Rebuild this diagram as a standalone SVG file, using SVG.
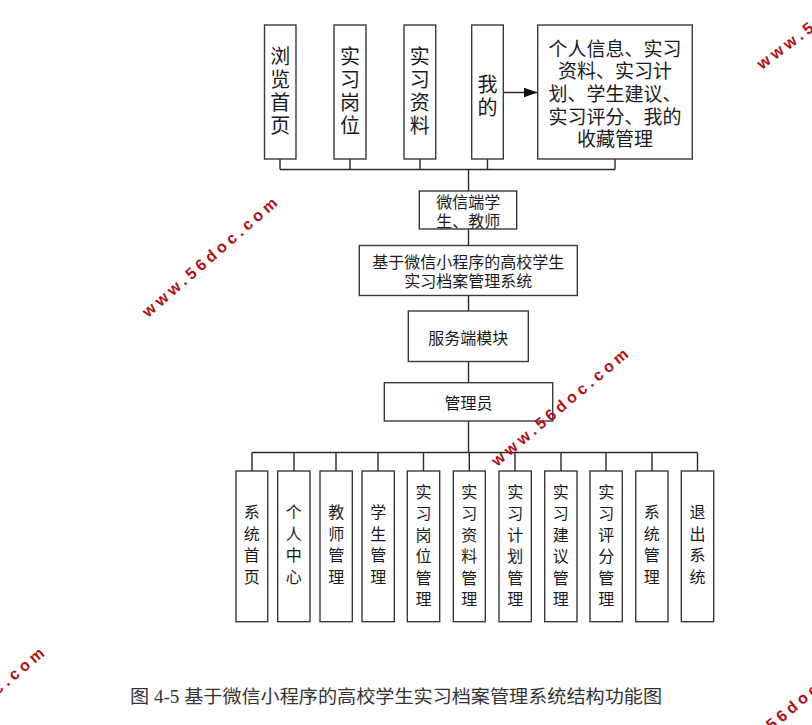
<svg xmlns="http://www.w3.org/2000/svg" width="812" height="725" viewBox="0 0 812 725">
<defs>
<style>
.box{fill:#fff;stroke:#3a3a3a;stroke-width:1.4}
.t{font-family:"Noto Sans CJK SC","Noto Sans",sans-serif;fill:#1a1a1a;text-anchor:middle;dominant-baseline:central}
.v{font-family:"Noto Sans CJK SC","Noto Sans",sans-serif;fill:#1a1a1a;text-anchor:middle;writing-mode:vertical-rl;text-orientation:upright}
.v20{font-size:20px;letter-spacing:2.8px}
.v16{font-size:16px;letter-spacing:5.5px}
.t19{font-size:19px}
.t16{font-size:16px}
.ln{fill:none;stroke:#2a2a2a;stroke-width:1.4}
.wm{font-family:"Liberation Sans",Arial,sans-serif;font-weight:bold;font-size:16px;letter-spacing:4px;fill:#b01010}
.cap{font-family:"Liberation Serif","Noto Sans CJK SC",serif;font-size:18px;fill:#333}
</style>
<marker id="arr" markerWidth="14" markerHeight="10" refX="14" refY="5" orient="auto" markerUnits="userSpaceOnUse">
<path d="M0,0 L14,5 L0,10 Z" fill="#111"/>
</marker>
</defs>
<rect width="812" height="725" fill="#fff"/>

<g id="connectors">
<path class="ln" d="M280,159 V169.5 M350,159 V169.5 M420,159 V169.5 M487.5,159 V169.5 M615,159 V169.5 M280,169.5 H615"/>
<path class="ln" d="M468.5,169.5 V191"/>
<path class="ln" d="M503.5,92.5 H537.5" marker-end="url(#arr)"/>
<path class="ln" d="M468.5,229 V245.5 M468.5,295.5 V311 M468.5,361.5 V382.5 M468.5,421 V452.5"/>
<path class="ln" d="M252,452.5 H697.5 M252,452.5 V471 M294,452.5 V471 M336,452.5 V471 M378,452.5 V471 M423.5,452.5 V471 M469.3,452.5 V471 M515,452.5 V471 M561,452.5 V471 M606,452.5 V471 M652,452.5 V471 M697.5,452.5 V471"/>
</g>

<g id="n-browse"><rect class="box" x="264.5" y="25" width="31.5" height="134"/>
<text class="v v20" x="280.2" y="92.3">浏览首页</text></g>
<g id="n-post"><rect class="box" x="334" y="25" width="32" height="134"/>
<text class="v v20" x="350" y="92.3">实习岗位</text></g>
<g id="n-material"><rect class="box" x="404" y="25" width="31.7" height="134"/>
<text class="v v20" x="419.8" y="92.3">实习资料</text></g>
<g id="n-mine"><rect class="box" x="471.7" y="25" width="31.6" height="134"/>
<text class="v v20" x="487.5" y="97">我的</text></g>
<g id="n-mine-detail"><rect class="box" x="537.7" y="25" width="154.6" height="134"/>
<text class="t t19" x="615"><tspan x="615" y="46.7">个人信息、实习</tspan><tspan x="615" y="69.3">资料、实习计</tspan><tspan x="615" y="92">划、学生建议、</tspan><tspan x="615" y="114.7">实习评分、我的</tspan><tspan x="615" y="137.4">收藏管理</tspan></text></g>

<g id="n-wechat"><rect class="box" x="419.3" y="191" width="97.4" height="38"/>
<text class="t t16" x="468.3"><tspan x="468.3" y="200.5">微信端学</tspan><tspan x="468.3" y="220">生、教师</tspan></text></g>
<g id="n-system"><rect class="box" x="359.3" y="245.5" width="218" height="50"/>
<text class="t t16" x="468.3"><tspan x="468.3" y="260.5">基于微信小程序的高校学生</tspan><tspan x="468.3" y="280">实习档案管理系统</tspan></text></g>
<g id="n-server"><rect class="box" x="408.3" y="311" width="120" height="50.5"/>
<text class="t t16" x="468.3" y="336.5">服务端模块</text></g>
<g id="n-admin"><rect class="box" x="384.3" y="382.7" width="168.4" height="38.3"/>
<text class="t t16" x="468.5" y="401.8">管理员</text></g>

<g id="n-home"><rect class="box" x="236" y="471" width="31.7" height="150.7"/>
<text class="v v16" x="251.8" y="547">系统首页</text></g>
<g id="n-personal"><rect class="box" x="277.7" y="471" width="32.3" height="150.7"/>
<text class="v v16" x="293.8" y="547">个人中心</text></g>
<g id="n-teacher"><rect class="box" x="320" y="471" width="32.3" height="150.7"/>
<text class="v v16" x="336.2" y="547">教师管理</text></g>
<g id="n-student"><rect class="box" x="362" y="471" width="32.3" height="150.7"/>
<text class="v v16" x="378.2" y="547">学生管理</text></g>
<g id="n-postmgr"><rect class="box" x="407.3" y="471" width="32.4" height="150.7"/>
<text class="v v16" x="423.5" y="548.2">实习岗位管理</text></g>
<g id="n-materialmgr"><rect class="box" x="453.3" y="471" width="32" height="150.7"/>
<text class="v v16" x="469.3" y="548.2">实习资料管理</text></g>
<g id="n-planmgr"><rect class="box" x="499" y="471" width="32.3" height="150.7"/>
<text class="v v16" x="515.2" y="548.2">实习计划管理</text></g>
<g id="n-suggestmgr"><rect class="box" x="544.7" y="471" width="32.3" height="150.7"/>
<text class="v v16" x="560.8" y="548.2">实习建议管理</text></g>
<g id="n-scoremgr"><rect class="box" x="590" y="471" width="32.3" height="150.7"/>
<text class="v v16" x="606.2" y="548.2">实习评分管理</text></g>
<g id="n-sysmgr"><rect class="box" x="635.7" y="471" width="32.3" height="150.7"/>
<text class="v v16" x="651.8" y="547">系统管理</text></g>
<g id="n-exit"><rect class="box" x="681.3" y="471" width="32.4" height="150.7"/>
<text class="v v16" x="697.5" y="547">退出系统</text></g>

<text class="cap" x="130" y="703" textLength="532" lengthAdjust="spacingAndGlyphs">图 4-5 基于微信小程序的高校学生实习档案管理系统结构功能图</text>

<g id="watermarks">
<text class="wm" transform="translate(148,318) rotate(-41)">www.56doc.com</text>
<text class="wm" transform="translate(497,467) rotate(-40)">www.56doc.com</text>
<text class="wm" transform="translate(762,70) rotate(-37)">www.56doc.com</text>
<text class="wm" transform="translate(-87,766) rotate(-40)">www.56doc.com</text>
<text class="wm" transform="translate(728,768) rotate(-40)">www.56doc.com</text>
</g>
</svg>
